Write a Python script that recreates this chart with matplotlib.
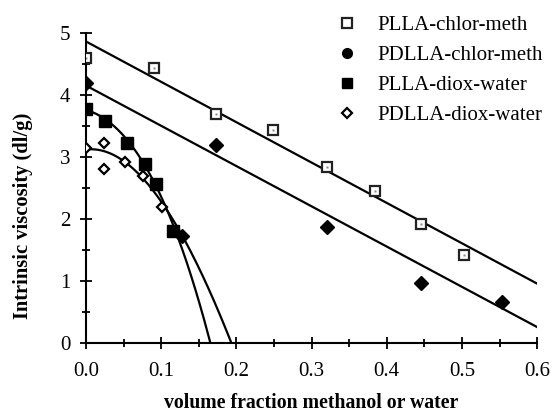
import numpy as np
import matplotlib
matplotlib.use('Agg')
import matplotlib.pyplot as plt
from matplotlib.lines import Line2D

plt.rcParams['font.family'] = ['Liberation Serif', 'DejaVu Serif']

# data
plla_cm_x = [0.0, 0.09, 0.173, 0.249, 0.32, 0.384, 0.445, 0.503]
plla_cm_y = [4.60, 4.44, 3.69, 3.43, 2.84, 2.46, 1.92, 1.42]

pdlla_cm_x = [0.0, 0.173, 0.32, 0.445, 0.553, 0.128]
pdlla_cm_y = [4.19, 3.19, 1.88, 0.97, 0.67, 1.73]

plla_dw_x = [0.0, 0.025, 0.054, 0.078, 0.093, 0.116]
plla_dw_y = [3.77, 3.58, 3.23, 2.88, 2.56, 1.80]

pdlla_dw_x = [0.0, 0.024, 0.024, 0.052, 0.076, 0.101]
pdlla_dw_y = [3.15, 3.23, 2.80, 2.92, 2.70, 2.20]

# straight fit lines (end points)
line_x = [0.0, 0.6]
plla_cm_line = [4.86, 0.96]
pdlla_cm_line = [4.15, 0.26]

# curves for the dioxane/water series: points
plla_dw_curve_x = [0.0, 0.025, 0.054, 0.078, 0.093, 0.116, 0.14, 0.166]
plla_dw_curve_y = [3.77, 3.60, 3.25, 2.88, 2.58, 1.92, 1.0, 0.0]
pdlla_dw_curve_x = [0.0, 0.05, 0.076, 0.101, 0.128, 0.165, 0.193]
pdlla_dw_curve_y = [3.12, 2.92, 2.70, 2.22, 1.72, 0.85, 0.0]

labels = ['PLLA-chlor-meth', 'PDLLA-chlor-meth', 'PLLA-diox-water', 'PDLLA-diox-water']

fig = plt.figure(figsize=(5.52, 4.16), dpi=100)
ax = fig.add_axes([0.156, 0.175, 0.817, 0.746])

lw = 1.6
ax.plot(line_x, plla_cm_line, color='black', lw=lw)
ax.plot(line_x, pdlla_cm_line, color='black', lw=lw)

for cx, cy in [(plla_dw_curve_x, plla_dw_curve_y), (pdlla_dw_curve_x, pdlla_dw_curve_y)]:
    c = np.polyfit(cx, cy, 3)
    xs = np.linspace(0, cx[-1], 200)
    ax.plot(xs, np.polyval(c, xs), color='black', lw=lw)

ax.plot(plla_cm_x, plla_cm_y, ls='none', marker='s', ms=7, mfc='white', mec='#222222', mew=1.6, zorder=4)
ax.plot(plla_cm_x, plla_cm_y, ls='none', marker='s', ms=2, mfc='#888888', mec='none', zorder=5)
ax.plot(pdlla_cm_x, pdlla_cm_y, ls='none', marker='D', ms=7, color='black', zorder=4)
ax.plot(plla_dw_x, plla_dw_y, ls='none', marker='s', ms=8, color='black', zorder=4)
ax.plot(pdlla_dw_x, pdlla_dw_y, ls='none', marker='D', ms=5.5, mfc='white', mec='black', mew=1.6, zorder=5)

handles = [
    Line2D([], [], ls='none', marker='s', ms=7, mfc='white', mec='#222222', mew=1.6),
    Line2D([], [], ls='none', marker='o', ms=7, color='black'),
    Line2D([], [], ls='none', marker='s', ms=7, color='black'),
    Line2D([], [], ls='none', marker='D', ms=5, mfc='white', mec='black', mew=1.6),
]
fig.legend(handles, labels, loc='upper left', bbox_to_anchor=(0.61, 0.962), frameon=False,
           fontsize=15, handlelength=1.0, handletextpad=0.94, labelspacing=0.5,
           borderpad=0, borderaxespad=0)

ax.set_xlim(0, 0.6)
ax.set_ylim(0, 5)
ax.set_xticks(np.arange(0, 0.61, 0.1))
ax.set_xticks(np.arange(0.05, 0.6, 0.1), minor=True)
ax.set_yticks(range(0, 6))
ax.set_yticks(np.arange(0.5, 5, 1.0), minor=True)
ax.set_xticklabels(['0.0', '0.1', '0.2', '0.3', '0.4', '0.5', '0.6'])
ax.spines['top'].set_visible(False)
ax.spines['right'].set_visible(False)
ax.spines['left'].set_linewidth(1.5)
ax.spines['bottom'].set_linewidth(1.5)
ax.tick_params(which='major', direction='inout', length=9, width=1.3, labelsize=15)
ax.tick_params(which='minor', direction='inout', length=6, width=1.3)
ax.tick_params(axis='x', pad=9)
ax.tick_params(axis='y', pad=7)

ax.set_xlabel('volume fraction methanol or water', fontsize=14.2, fontweight='bold', labelpad=9)
ax.set_ylabel('Intrinsic viscosity (dl/g)', fontsize=14.8, fontweight='bold')
ax.yaxis.set_label_coords(-0.118, 0.41)

fig.savefig('out.png', dpi=100)
